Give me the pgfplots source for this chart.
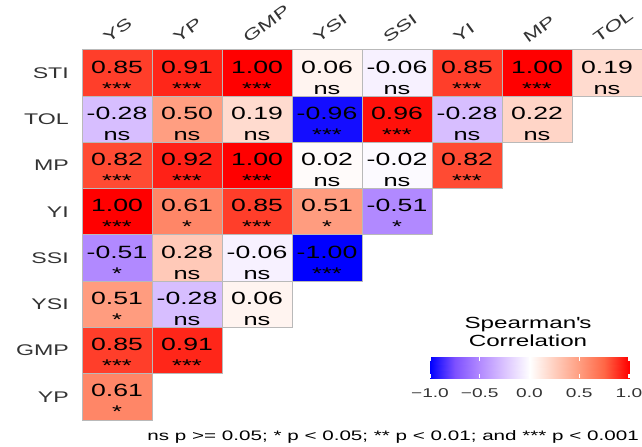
\documentclass[border=0pt]{standalone}
\usepackage{fontspec}
\setmainfont{Liberation Sans}
\newfontfamily\wide{Liberation Sans}[FakeStretch=1.5]
\usepackage{pgfplots}
\pgfplotsset{compat=1.18}
\usepackage{pgfplotstable}

\definecolor{outl}{RGB}{185,185,185}
\pgfplotsset{colormap={spear}{rgb255(0cm)=(0,0,255) rgb255(1cm)=(126,81,255) rgb255(2cm)=(179,139,255) rgb255(3cm)=(220,197,255) rgb255(4cm)=(255,255,255) rgb255(5cm)=(255,207,191) rgb255(6cm)=(255,158,129) rgb255(7cm)=(255,103,70) rgb255(8cm)=(255,0,0)}}

\pgfdeclareplotmark{cell}{\pgfpathrectangle{\pgfpoint{-35bp}{-23.125bp}}{\pgfpoint{70bp}{46.25bp}}\pgfusepathqfillstroke}

\pgfplotstableread{
x y v lab sig
0 7 0.85 0.85 ***
1 7 0.91 0.91 ***
2 7 1.00 1.00 ***
3 7 0.06 0.06 ns
4 7 -0.06 -0.06 ns
5 7 0.85 0.85 ***
6 7 1.00 1.00 ***
7 7 0.19 0.19 ns
0 6 -0.28 -0.28 ns
1 6 0.50 0.50 ns
2 6 0.19 0.19 ns
3 6 -0.96 -0.96 ***
4 6 0.96 0.96 ***
5 6 -0.28 -0.28 ns
6 6 0.22 0.22 ns
0 5 0.82 0.82 ***
1 5 0.92 0.92 ***
2 5 1.00 1.00 ***
3 5 0.02 0.02 ns
4 5 -0.02 -0.02 ns
5 5 0.82 0.82 ***
0 4 1.00 1.00 ***
1 4 0.61 0.61 *
2 4 0.85 0.85 ***
3 4 0.51 0.51 *
4 4 -0.51 -0.51 *
0 3 -0.51 -0.51 *
1 3 0.28 0.28 ns
2 3 -0.06 -0.06 ns
3 3 -1.00 -1.00 ***
0 2 0.51 0.51 *
1 2 -0.28 -0.28 ns
2 2 0.06 0.06 ns
0 1 0.85 0.85 ***
1 1 0.91 0.91 ***
0 0 0.61 0.61 *
}\corr

\pgfplotstableread{
x y
-1 0
-0.75 0
-0.5 0
-0.25 0
0 0
0.25 0
0.5 0
0.75 0
1 0

-1 1
-0.75 1
-0.5 1
-0.25 1
0 1
0.25 1
0.5 1
0.75 1
1 1
}\bar

\newcommand\numfont{\wide\fontsize{17.8}{21}\selectfont}
\newcommand\sigfont{\wide\fontsize{17}{20}\selectfont}
\newcommand\labfont{\wide\fontsize{15.5}{18}\selectfont}

\begin{document}
\begin{tikzpicture}
\path[use as bounding box] (0,0) rectangle (642bp,447bp);
\begin{axis}[
  at={(82bp,27bp)}, anchor=south west,
  scale only axis, width=560bp, height=370bp,
  xmin=-0.5, xmax=7.5, ymin=-0.5, ymax=7.5,
  axis line style={draw=none},
  xtick=\empty, ytick=\empty,
  clip=false,
  colormap name=spear,
  point meta min=-1, point meta max=1,
]
\addplot[scatter, only marks, mark=cell, line width=1bp,
  point meta=explicit,
  scatter/use mapped color={draw=outl, fill=mapped color}]
  table[x=x, y=y, meta=v] {\corr};
\addplot[draw=none, mark=none, point meta=explicit symbolic,
  nodes near coords,
  every node near coord/.append style={anchor=base, inner sep=0pt, yshift=0bp, font=\numfont, text=black}]
  table[x=x, y=y, meta=lab] {\corr};
\addplot[draw=none, mark=none, point meta=explicit symbolic,
  nodes near coords,
  every node near coord/.append style={anchor=base, inner sep=0pt, yshift=-21bp, font=\sigfont, text=black}]
  table[x=x, y=y, meta=sig] {\corr};
\end{axis}
% legend colour bar
\begin{axis}[
  at={(430bp,68.7bp)}, anchor=south west,
  scale only axis, width=199bp, height=21.5bp,
  xmin=-1, xmax=1, ymin=0, ymax=1,
  axis line style={draw=none},
  axis on top,
  colormap name=spear,
  point meta min=-1, point meta max=1,
  ytick=\empty,
  xtick={-1,-0.5,0,0.5,1},
  xticklabels={−1.0,−0.5,0.0,0.5,1.0},
  xtick pos=both, xticklabel pos=lower,
  tick align=inside, major tick length=4.5bp,
  xtick style={draw=white, line width=1.3bp},
  xticklabel style={font=\wide\fontsize{12.8}{15}\selectfont, text=black!80, yshift=-7bp},
]
\addplot[surf, shader=interp, point meta=x, mesh/cols=9] table[x=x, y=y] {\bar};
\end{axis}
% row labels
\begin{scope}[every node/.style={anchor=east, inner sep=0pt, font=\labfont, text=black!80}]
\node at (69bp,373.9bp) {STI};
\node at (69bp,327.6bp) {TOL};
\node at (69bp,281.4bp) {MP};
\node at (69bp,235.1bp) {YI};
\node at (69bp,188.9bp) {SSI};
\node at (69bp,142.6bp) {YSI};
\node at (69bp,96.4bp) {GMP};
\node at (69bp,50.1bp) {YP};
\end{scope}
% column labels
\begin{scope}[every node/.style={anchor=base west, inner sep=0pt, font=\labfont, text=black!80, rotate=36}]
\node at (108bp,403bp) {YS};
\node at (178bp,403bp) {YP};
\node at (248bp,403bp) {GMP};
\node at (318bp,403bp) {YSI};
\node at (388bp,403bp) {SSI};
\node at (458bp,403bp) {YI};
\node at (528bp,403bp) {MP};
\node at (598bp,403bp) {TOL};
\end{scope}
% legend title
\node[anchor=base, inner sep=0pt, font=\wide\fontsize{16.2}{19}\selectfont] at (528bp,118.5bp) {Spearman\textquotesingle s};
\node[anchor=base, inner sep=0pt, font=\wide\fontsize{16.2}{19}\selectfont] at (528bp,100.5bp) {Correlation};
% footnote
\node[anchor=base east, inner sep=0pt, font=\wide\fontsize{13.8}{16}\selectfont] at (639bp,7bp) {ns p >= 0.05; * p < 0.05; ** p < 0.01; and *** p < 0.001};
\end{tikzpicture}
\end{document}
